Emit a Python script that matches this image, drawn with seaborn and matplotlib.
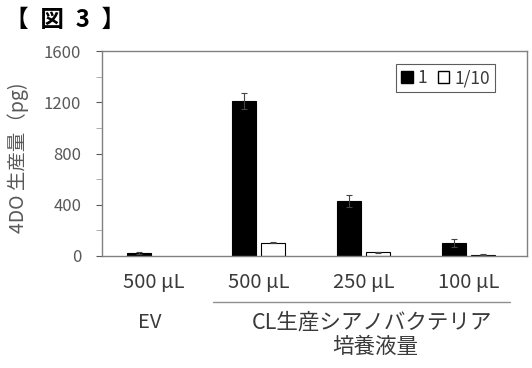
import numpy as np
import pandas as pd
import matplotlib
matplotlib.use("Agg")
import matplotlib.pyplot as plt
import seaborn as sns
from matplotlib.patches import Patch
from matplotlib.lines import Line2D

categories = ["EV 500", "CL 500", "CL 250", "CL 100"]
tick_labels = ["500 µL", "500 µL", "250 µL", "100 µL"]
series = ["1", "1/10"]
values_1 = [20, 1210, 430, 100]
errors_1 = [8, 65, 45, 30]
values_10 = [np.nan, 105, 30, 10]
errors_10 = [0, 5, 5, 3]

sns.set_style("white")
plt.rcParams['font.family'] = ['Noto Sans CJK JP', 'DejaVu Sans']

df = pd.DataFrame({
    "cat": categories * 2,
    "series": [series[0]] * 4 + [series[1]] * 4,
    "val": values_1 + values_10,
})

fig = plt.figure(figsize=(5.32, 3.68), dpi=100)
ax = fig.add_axes([102/532, 1-256/368, 425/532, 205/368])

gray = "#595959"
txt = "#3a3a3a"
sns.barplot(data=df, x="cat", y="val", hue="series", order=categories,
            hue_order=series, palette=["black", "white"], width=0.55, gap=0.17,
            edgecolor="black", linewidth=0.8, errorbar=None, ax=ax, legend=False)

# error bars from bar positions (NaN bars are not drawn)
for cont, vals, errs in zip(ax.containers, [values_1, values_10], [errors_1, errors_10]):
    kept = [(v, e) for v, e in zip(vals, errs) if not np.isnan(v)]
    for bar, (v, e) in zip(cont, kept):
        if e == 0:
            continue
        xc = bar.get_x() + bar.get_width() / 2
        ax.errorbar(xc, v, yerr=e, color="#444444", capsize=2.5, elinewidth=0.8,
                    capthick=0.8)

ax.set_xlim(-0.49, 3.56)
ax.set_ylim(0, 1600)
ax.set_yticks([0, 400, 800, 1200, 1600])
ax.set_yticks([200, 600, 1000, 1400], minor=True)
ax.set_xticks(range(4))
ax.set_xticklabels(tick_labels)
ax.tick_params(axis="y", which="major", left=True, length=4, color=gray,
               labelsize=12, labelcolor=gray, pad=11)
ax.tick_params(axis="y", which="minor", left=True, length=4, color="#a0a0a0")
ax.tick_params(axis="x", bottom=False, labelsize=14.5, labelcolor=txt, pad=8)
ax.set_xlabel("")
ax.set_ylabel("4DO 生産量（pg)", fontsize=14, color=gray)
ax.yaxis.set_label_coords(-0.172, 0.478)
for s in ax.spines.values():
    s.set_color("#808080")
    s.set_linewidth(1.0)

# legend
handles = [Patch(facecolor="black", edgecolor="black", label="1"),
           Patch(facecolor="white", edgecolor="black", label="1/10")]
leg = ax.legend(handles=handles, loc="upper right", bbox_to_anchor=(0.925, 0.937),
                borderaxespad=0, ncol=2, frameon=True, fancybox=False, fontsize=12.5,
                handlelength=0.65, handleheight=0.65, handletextpad=0.3,
                columnspacing=0.6, borderpad=0.3, labelcolor=txt)
leg.get_frame().set_edgecolor("#333333")
leg.get_frame().set_linewidth(0.8)

# group labels
fig.add_artist(Line2D([213/532, 510/532], [1-302/368, 1-302/368],
                      color="#909090", lw=1.0))
fig.text(150/532, 1-323/368, "EV", ha="center", va="center", fontsize=14.5, color=txt)
fig.text(372/532, 1-323/368, "CL生産シアノバクテリア", ha="center", va="center",
         fontsize=15.5, color=txt)
fig.text(375/532, 1-347/368, "培養液量", ha="center", va="center",
         fontsize=15.5, color=txt)
fig.text(5/532, 1-20/368, "【\u2002図\u20023\u2002】", ha="left", va="center",
         fontsize=17, fontweight="bold", color="black")

fig.savefig("out.png", dpi=100)
